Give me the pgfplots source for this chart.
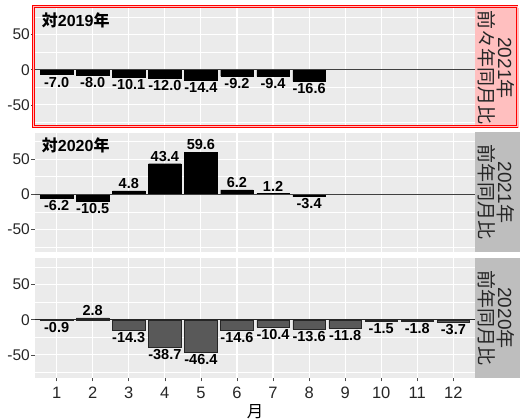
\documentclass[border=0pt]{standalone}
\usepackage{fontspec}
\setmainfont{Liberation Sans}
\newfontfamily\cjk{Noto Sans CJK JP}
\usepackage{pgfplots}
\pgfplotsset{compat=1.18}
\definecolor{panelbg}{HTML}{EBEBEB}
\definecolor{stripgrey}{HTML}{BEBEBE}
\definecolor{strippink}{HTML}{FFBFBF}
\definecolor{bargrey}{HTML}{595959}

\pgfplotstableread{
x y
1 -7.0
2 -8.0
3 -10.1
4 -12.0
5 -14.4
6 -9.2
7 -9.4
8 -16.6
}\tA
\pgfplotstableread{
x y
1 -6.2
2 -10.5
3 4.8
4 43.4
5 59.6
6 6.2
7 1.2
8 -3.4
}\tB
\pgfplotstableread{
x y
1 -0.9
2 2.8
3 -14.3
4 -38.7
5 -46.4
6 -14.6
7 -10.4
8 -13.6
9 -11.8
10 -1.5
11 -1.8
12 -3.7
}\tC

\pgfplotsset{
  panel/.style={
    scale only axis, width=440pt, height=120pt,
    xmin=0.4, xmax=12.6, ymin=-82.75, ymax=87.75,
    enlargelimits=false,
    axis background/.style={fill=panelbg},
    axis line style={draw=none},
    xtick={1,...,12}, ytick={-50,0,50}, minor ytick={-75,-25,25,75},
    xmajorgrids, ymajorgrids, yminorgrids,
    major grid style={white, line width=1.1pt},
    minor grid style={white, line width=0.55pt},
    tick style={black!70, line width=0.6pt},
    tick align=outside, major tick length=3.5pt, minor tick length=0pt,
    xtick pos=bottom, ytick pos=left,
    /pgf/number format/assume math mode=true,
    yticklabel style={font=\fontsize{15.5}{15.5}\selectfont, text=black!85, inner sep=1.5pt},
    xticklabel style={font=\fontsize{16.5}{16.5}\selectfont, text=black!85, yshift=-2pt},
    ybar, bar width=0.9, bar shift=0pt,
    nodes near coords,
    nodes near coords style={font=\bfseries\fontsize{14.5}{14.5}\selectfont, text=black,
      inner sep=2pt,
      /pgf/number format/fixed, /pgf/number format/fixed zerofill, /pgf/number format/precision=1},
  }
}

\begin{document}
\begin{tikzpicture}
\useasboundingbox (0,0) rectangle (520pt,419pt);

% Panel 1
\begin{axis}[panel, at={(35pt,291pt)}, anchor=south west, xmajorticks=false]
\addplot[fill=black, draw=black] table[x=x,y=y] {\tA};
\draw[black!75, line width=0.6pt] (axis cs:0.4,0) -- (axis cs:12.6,0);
\node[anchor=base west, inner sep=0pt, font=\bfseries\fontsize{16}{16}\selectfont] at (axis cs:0.586,61) {{\cjk 対}2019{\cjk 年}};
\end{axis}
\fill[strippink] (475pt,291pt) rectangle (519pt,411pt);
\node[rotate=-90, align=center, font=\fontsize{19}{18.5}\selectfont, text=black!85] at (496pt,351pt) {2021{\cjk 年}\\{\cjk 前々年同月比}};
\draw[red, line width=0.7pt, double=red!25, double distance=1pt] (33.5pt,292.5pt) rectangle (517pt,412.5pt);

% Panel 2
\begin{axis}[panel, at={(35pt,166.5pt)}, anchor=south west, xmajorticks=false]
\addplot[fill=black, draw=black] table[x=x,y=y] {\tB};
\draw[black!75, line width=0.6pt] (axis cs:0.4,0) -- (axis cs:12.6,0);
\node[anchor=base west, inner sep=0pt, font=\bfseries\fontsize{16}{16}\selectfont] at (axis cs:0.586,61) {{\cjk 対}2020{\cjk 年}};
\end{axis}
\fill[stripgrey] (475pt,166.5pt) rectangle (520pt,286.5pt);
\node[rotate=-90, align=center, font=\fontsize{19}{18.5}\selectfont, text=black!85] at (496pt,226.5pt) {2021{\cjk 年}\\{\cjk 前年同月比}};

% Panel 3
\begin{axis}[panel, at={(35pt,41pt)}, anchor=south west,
  xlabel={\cjk 月}, xlabel style={font=\fontsize{16.5}{16.5}\selectfont, inner sep=0pt, yshift=-2pt}]
\addplot[fill=bargrey, draw=black!85, line width=0.5pt] table[x=x,y=y] {\tC};
\draw[black!85, line width=0.6pt] (axis cs:0.4,0) -- (axis cs:12.6,0);
\end{axis}
\fill[stripgrey] (475pt,41pt) rectangle (520pt,161pt);
\node[rotate=-90, align=center, font=\fontsize{19}{18.5}\selectfont, text=black!85] at (496pt,101pt) {2020{\cjk 年}\\{\cjk 前年同月比}};
\end{tikzpicture}
\end{document}
